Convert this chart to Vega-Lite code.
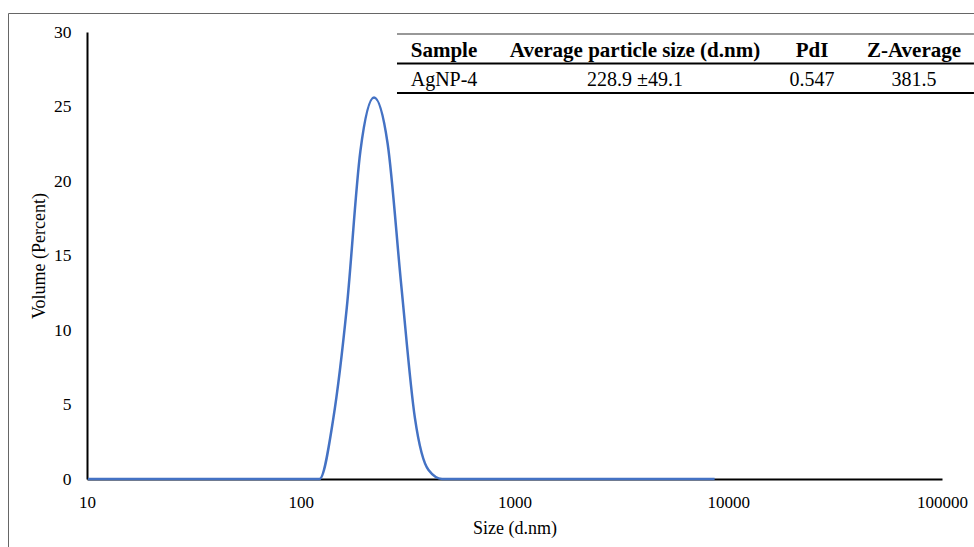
{
  "$schema": "https://vega.github.io/schema/vega-lite/v6.json",
  "autosize": {"type": "none"},
  "padding": {"left": 8, "top": 13, "right": 0, "bottom": 0},
  "width": 967,
  "height": 535,
  "background": "white",
  "config": {
    "view": {"stroke": "#666666", "strokeWidth": 1},
    "font": "Liberation Serif",
    "text": {"font": "Liberation Serif"}
  },
  "datasets": {
    "dls": [
      {"size": 10.10, "volume": 0}, {"size": 11.70, "volume": 0}, {"size": 13.54, "volume": 0},
      {"size": 15.69, "volume": 0}, {"size": 18.17, "volume": 0}, {"size": 21.04, "volume": 0},
      {"size": 24.36, "volume": 0}, {"size": 28.21, "volume": 0}, {"size": 32.67, "volume": 0},
      {"size": 37.84, "volume": 0}, {"size": 43.82, "volume": 0}, {"size": 50.75, "volume": 0},
      {"size": 58.77, "volume": 0}, {"size": 68.06, "volume": 0}, {"size": 78.82, "volume": 0},
      {"size": 91.28, "volume": 0}, {"size": 105.7, "volume": 0}, {"size": 122.4, "volume": 0},
      {"size": 141.8, "volume": 4.0}, {"size": 164.2, "volume": 11.5}, {"size": 190.1, "volume": 22.0},
      {"size": 220.2, "volume": 25.6}, {"size": 255.0, "volume": 22.5}, {"size": 295.3, "volume": 13.0},
      {"size": 342.0, "volume": 4.1}, {"size": 396.1, "volume": 0.6}, {"size": 458.7, "volume": 0},
      {"size": 531.2, "volume": 0}, {"size": 615.1, "volume": 0}, {"size": 712.4, "volume": 0},
      {"size": 825.0, "volume": 0}, {"size": 955.4, "volume": 0}, {"size": 1106, "volume": 0},
      {"size": 1281, "volume": 0}, {"size": 1484, "volume": 0}, {"size": 1718, "volume": 0},
      {"size": 1990, "volume": 0}, {"size": 2305, "volume": 0}, {"size": 2669, "volume": 0},
      {"size": 3091, "volume": 0}, {"size": 3580, "volume": 0}, {"size": 4145, "volume": 0},
      {"size": 4801, "volume": 0}, {"size": 5560, "volume": 0}, {"size": 6439, "volume": 0},
      {"size": 7456, "volume": 0}, {"size": 8635, "volume": 0}
    ],
    "table": [
      {"row": "header", "c1": "Sample", "c2": "Average particle size (d.nm)", "c3": "PdI", "c4": "Z-Average"},
      {"row": "data", "c1": "AgNP-4", "c2": "228.9 ±49.1", "c3": "0.547", "c4": "381.5"}
    ]
  },
  "layer": [
    {
      "data": {"name": "dls"},
      "mark": {"type": "line", "color": "#4472C4", "strokeWidth": 2.5, "interpolate": "monotone"},
      "encoding": {
        "x": {
          "field": "size", "type": "quantitative",
          "scale": {"type": "log", "domain": [10, 100000], "range": [79, 934], "nice": false},
          "axis": {
            "title": "Size (d.nm)", "values": [10, 100, 1000, 10000, 100000], "format": "d",
            "offset": -69, "grid": false, "ticks": false, "tickSize": 0,
            "domainColor": "#000000", "domainWidth": 2,
            "labelFont": "Liberation Serif", "labelFontSize": 17, "labelColor": "#000000",
            "labelPadding": 15, "labelFlush": false, "labelOverlap": false,
            "titleFont": "Liberation Serif", "titleFontSize": 18, "titleFontWeight": "normal",
            "titleColor": "#000000", "titlePadding": 9
          }
        },
        "y": {
          "field": "volume", "type": "quantitative",
          "scale": {"domain": [0, 30], "range": [466, 19], "nice": false, "zero": false},
          "axis": {
            "title": "Volume (Percent)", "values": [0, 5, 10, 15, 20, 25, 30],
            "offset": -79, "grid": false, "ticks": false, "tickSize": 0,
            "domainColor": "#000000", "domainWidth": 2,
            "labelFont": "Liberation Serif", "labelFontSize": 17.5, "labelColor": "#000000",
            "labelPadding": 16,
            "titleFont": "Liberation Serif", "titleFontSize": 18, "titleFontWeight": "normal",
            "titleColor": "#000000", "titlePadding": 5
          }
        }
      }
    },
    {
      "data": {"values": [{}]},
      "mark": {"type": "rule", "color": "#333333", "strokeWidth": 1.2},
      "encoding": {"x": {"datum": 282}, "x2": {"datum": 141100}, "y": {"datum": 29.866}}
    },
    {
      "data": {"values": [{}]},
      "mark": {"type": "rule", "color": "#000000", "strokeWidth": 2},
      "encoding": {"x": {"datum": 282}, "x2": {"datum": 141100}, "y": {"datum": 27.886}}
    },
    {
      "data": {"values": [{}]},
      "mark": {"type": "rule", "color": "#000000", "strokeWidth": 2},
      "encoding": {"x": {"datum": 282}, "x2": {"datum": 141100}, "y": {"datum": 25.906}}
    },
    {
      "data": {"name": "table"},
      "transform": [{"filter": "datum.row === 'header'"}],
      "layer": [
        {"mark": {"type": "text", "font": "Liberation Serif", "fontSize": 21, "fontWeight": "bold", "align": "center", "baseline": "middle", "color": "#000000"},
         "encoding": {"x": {"datum": 468}, "y": {"datum": 28.725}, "text": {"field": "c1"}}},
        {"mark": {"type": "text", "font": "Liberation Serif", "fontSize": 21, "fontWeight": "bold", "align": "center", "baseline": "middle", "color": "#000000"},
         "encoding": {"x": {"datum": 3662}, "y": {"datum": 28.725}, "text": {"field": "c2"}}},
        {"mark": {"type": "text", "font": "Liberation Serif", "fontSize": 21, "fontWeight": "bold", "align": "center", "baseline": "middle", "color": "#000000"},
         "encoding": {"x": {"datum": 24650}, "y": {"datum": 28.725}, "text": {"field": "c3"}}},
        {"mark": {"type": "text", "font": "Liberation Serif", "fontSize": 21, "fontWeight": "bold", "align": "center", "baseline": "middle", "color": "#000000"},
         "encoding": {"x": {"datum": 73960}, "y": {"datum": 28.725}, "text": {"field": "c4"}}}
      ]
    },
    {
      "data": {"name": "table"},
      "transform": [{"filter": "datum.row === 'data'"}],
      "layer": [
        {"mark": {"type": "text", "font": "Liberation Serif", "fontSize": 20, "align": "center", "baseline": "middle", "color": "#000000"},
         "encoding": {"x": {"datum": 468}, "y": {"datum": 26.78}, "text": {"field": "c1"}}},
        {"mark": {"type": "text", "font": "Liberation Serif", "fontSize": 20, "align": "center", "baseline": "middle", "color": "#000000"},
         "encoding": {"x": {"datum": 3662}, "y": {"datum": 26.78}, "text": {"field": "c2"}}},
        {"mark": {"type": "text", "font": "Liberation Serif", "fontSize": 20, "align": "center", "baseline": "middle", "color": "#000000"},
         "encoding": {"x": {"datum": 24650}, "y": {"datum": 26.78}, "text": {"field": "c3"}}},
        {"mark": {"type": "text", "font": "Liberation Serif", "fontSize": 20, "align": "center", "baseline": "middle", "color": "#000000"},
         "encoding": {"x": {"datum": 73960}, "y": {"datum": 26.78}, "text": {"field": "c4"}}}
      ]
    }
  ]
}
